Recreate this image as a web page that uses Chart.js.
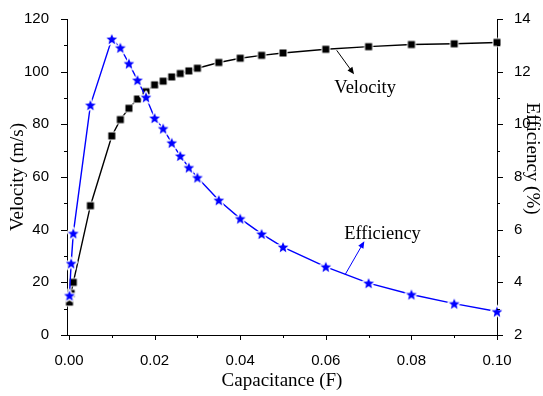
<!DOCTYPE html>
<html>
<head>
<meta charset="utf-8">
<script src="https://cdn.jsdelivr.net/npm/chart.js@4.4.1/dist/chart.umd.min.js"></script>
<style>
  html, body { margin: 0; padding: 0; background: #ffffff; }
  #c { display: block; }
</style>
</head>
<body>
<canvas id="c" width="543" height="396"></canvas>
<script>
// Capacitance sweep (F) and the measured responses
const capacitance = [0.0001, 0.0005, 0.001, 0.005, 0.010, 0.012, 0.014, 0.016, 0.018, 0.020, 0.022, 0.024, 0.026, 0.028, 0.030, 0.035, 0.040, 0.045, 0.050, 0.060, 0.070, 0.080, 0.090, 0.100];
const velocity   = [12.5, 15.8, 20.0, 49.1, 75.6, 81.8, 86.1, 89.6, 92.4, 95.0, 96.4, 98.0, 99.3, 100.3, 101.3, 103.5, 105.1, 106.2, 107.1, 108.5, 109.5, 110.3, 110.6, 111.1];
const efficiency = [3.50, 4.72, 5.86, 10.73, 13.24, 12.91, 12.31, 11.68, 11.03, 10.24, 9.84, 9.30, 8.80, 8.36, 7.98, 7.12, 6.42, 5.84, 5.34, 4.59, 3.97, 3.54, 3.19, 2.89];

// Tick values for the three axes
const xTicks = [0.00, 0.02, 0.04, 0.06, 0.08, 0.10];
const velocityTicks = [0, 20, 40, 60, 80, 100, 120];
const efficiencyTicks = [2, 4, 6, 8, 10, 12, 14];

const BLUE = '#0000ff';
const SANS = '"Liberation Sans", Arial, sans-serif';
const SERIF = '"Liberation Serif", "Times New Roman", serif';

// Marker sprites with a thin white halo so the line stops short of each marker
function squareMarker() {
  const c = document.createElement('canvas');
  c.width = 12; c.height = 12;
  const g = c.getContext('2d');
  g.fillStyle = '#ffffff';
  g.fillRect(1.5, 1.5, 9, 9);
  g.fillStyle = '#000000';
  g.fillRect(2.5, 2.5, 7, 7);
  return c;
}
function starMarker() {
  const c = document.createElement('canvas');
  c.width = 16; c.height = 16;
  const g = c.getContext('2d');
  const cx = 8, cy = 8.6, R = 5.6, r = 2.5;
  g.beginPath();
  for (let k = 0; k < 10; k++) {
    const a = -Math.PI / 2 + k * Math.PI / 5;
    const rad = k % 2 === 0 ? R : r;
    const px = cx + rad * Math.cos(a), py = cy + rad * Math.sin(a);
    k === 0 ? g.moveTo(px, py) : g.lineTo(px, py);
  }
  g.closePath();
  g.lineJoin = 'round';
  g.strokeStyle = '#ffffff';
  g.lineWidth = 3;
  g.stroke();
  g.fillStyle = BLUE;
  g.fill();
  return c;
}

// Callout labels with arrows, placed in data coordinates
const callouts = [
  { text: 'Velocity', color: '#000000', yAxis: 'y',
    at: [0.0692, 91.9], from: [0.06255, 108.1], to: [0.0666, 99.0] },
  { text: 'Efficiency', color: BLUE, yAxis: 'y2',
    at: [0.07325, 5.66], from: [0.0645, 4.29], to: [0.0690, 5.56] }
];

const decorations = {
  id: 'decorations',
  afterDraw(chart) {
    const ctx = chart.ctx;
    const { x, y, y2 } = chart.scales;
    const area = chart.chartArea;
    ctx.save();
    ctx.strokeStyle = '#000000';
    ctx.lineWidth = 1;

    // outward major and minor tick marks
    const tick = (x1, y1, x2, y2p) => {
      ctx.beginPath(); ctx.moveTo(x1, y1); ctx.lineTo(x2, y2p); ctx.stroke();
    };
    for (let i = 0; i <= 10; i++) {
      const px = Math.round(x.getPixelForValue(i * 0.01)) + 0.5;
      const len = i % 2 === 0 ? 5 : 3;
      tick(px, area.bottom, px, area.bottom + len);
    }
    for (let i = 0; i <= 12; i++) {
      const py = Math.round(y.getPixelForValue(i * 10)) + 0.5;
      const len = i % 2 === 0 ? 6 : 3;
      tick(area.left, py, area.left - len, py);
    }
    for (let i = 2; i <= 14; i++) {
      const py = Math.round(y2.getPixelForValue(i)) + 0.5;
      const len = i % 2 === 0 ? 6 : 3;
      tick(area.right, py, area.right + len, py);
    }

    // right-hand axis title, reading downward
    ctx.save();
    ctx.translate(532, y2.getPixelForValue(8.7));
    ctx.rotate(Math.PI / 2);
    ctx.fillStyle = '#000000';
    ctx.font = '19px ' + SERIF;
    ctx.textAlign = 'center';
    ctx.textBaseline = 'middle';
    ctx.fillText('Efficiency (%)', 0, 0);
    ctx.restore();

    // callouts
    callouts.forEach(c => {
      const ys = chart.scales[c.yAxis];
      const x1 = x.getPixelForValue(c.from[0]), y1 = ys.getPixelForValue(c.from[1]);
      const x2 = x.getPixelForValue(c.to[0]), y2p = ys.getPixelForValue(c.to[1]);
      const ang = Math.atan2(y2p - y1, x2 - x1);
      const head = 7, half = 3;
      ctx.strokeStyle = c.color;
      ctx.fillStyle = c.color;
      ctx.lineWidth = 1;
      ctx.beginPath();
      ctx.moveTo(x1, y1);
      ctx.lineTo(x2 - head * 0.8 * Math.cos(ang), y2p - head * 0.8 * Math.sin(ang));
      ctx.stroke();
      ctx.beginPath();
      ctx.moveTo(x2, y2p);
      ctx.lineTo(x2 - head * Math.cos(ang) + half * Math.sin(ang), y2p - head * Math.sin(ang) - half * Math.cos(ang));
      ctx.lineTo(x2 - head * Math.cos(ang) - half * Math.sin(ang), y2p - head * Math.sin(ang) + half * Math.cos(ang));
      ctx.closePath();
      ctx.fill();

      ctx.fillStyle = '#000000';
      ctx.font = '18.5px ' + SERIF;
      ctx.textAlign = 'center';
      ctx.textBaseline = 'alphabetic';
      ctx.fillText(c.text, x.getPixelForValue(c.at[0]), ys.getPixelForValue(c.at[1]));
    });
    ctx.restore();
  }
};

const tickFont = { family: SANS, size: 15 };

new Chart(document.getElementById('c'), {
  type: 'line',
  data: {
    datasets: [
      {
        label: 'Efficiency',
        data: capacitance.map((c, i) => ({ x: c, y: efficiency[i] })),
        yAxisID: 'y2',
        borderColor: BLUE,
        borderWidth: 1.4,
        pointStyle: starMarker(),
        pointRadius: 6,
        tension: 0,
        clip: false,
        order: 0
      },
      {
        label: 'Velocity',
        data: capacitance.map((c, i) => ({ x: c, y: velocity[i] })),
        yAxisID: 'y',
        borderColor: '#000000',
        borderWidth: 1.4,
        pointStyle: squareMarker(),
        pointRadius: 6,
        tension: 0,
        clip: false,
        order: 1
      }
    ]
  },
  options: {
    responsive: false,
    animation: false,
    devicePixelRatio: 1,
    layout: { padding: { top: 15, left: 0, right: 0, bottom: 0 } },
    plugins: { legend: { display: false }, tooltip: { enabled: false } },
    scales: {
      x: {
        type: 'linear',
        min: -0.00047,
        max: 0.1,
        grid: { display: false },
        border: { display: true, color: '#000000', width: 1 },
        afterBuildTicks: s => { s.ticks = xTicks.map(v => ({ value: v })); },
        afterFit: s => { s.height = 61; },
        ticks: {
          color: '#000000', font: tickFont, padding: 9, maxRotation: 0,
          callback: v => Number(v).toFixed(2)
        },
        title: {
          display: true, text: 'Capacitance (F)', color: '#000000',
          font: { family: SERIF, size: 19 }, padding: { top: 0, bottom: 4 }
        }
      },
      y: {
        position: 'left',
        min: 0,
        max: 120,
        grid: { display: false },
        border: { display: true, color: '#000000', width: 1 },
        afterBuildTicks: s => { s.ticks = velocityTicks.map(v => ({ value: v })); },
        afterFit: s => { s.width = 67; },
        ticks: { color: '#000000', font: tickFont, padding: 10 },
        title: {
          display: true, text: 'Velocity (m/s)', color: '#000000',
          font: { family: SERIF, size: 19 }, padding: { top: 7, bottom: 0 }
        }
      },
      y2: {
        position: 'right',
        min: 2,
        max: 14,
        grid: { display: false },
        border: { display: true, color: '#000000', width: 1 },
        afterBuildTicks: s => { s.ticks = efficiencyTicks.map(v => ({ value: v })); },
        afterFit: s => { s.width = 46; },
        ticks: { color: '#000000', font: tickFont, padding: 9 }
      }
    }
  },
  plugins: [decorations]
});
</script>
</body>
</html>
